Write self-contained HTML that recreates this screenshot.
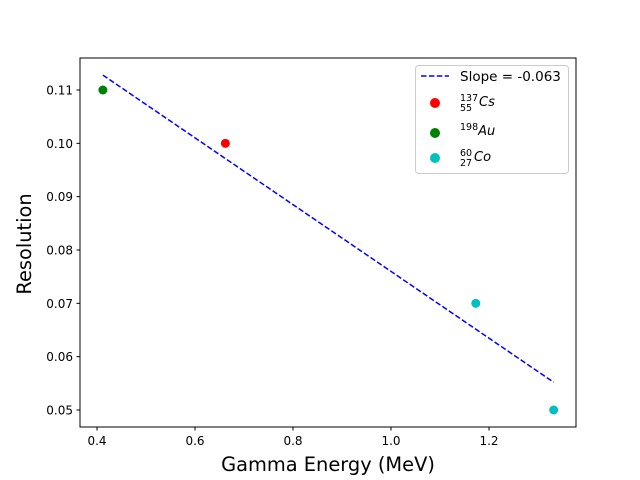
<!DOCTYPE html>
<html><head><meta charset="utf-8"><style>
body{margin:0;background:#fff}
svg{display:block;font-family:"DejaVu Sans","Liberation Sans",sans-serif}
</style></head><body>
<svg id="c" width="640" height="480">
<rect x="80" y="58" width="496" height="369" fill="none" stroke="#000" stroke-width="1"/>
<g id="marks"></g>
<g id="axes"></g>
<text x="328" y="471" font-size="19.4" text-anchor="middle">Gamma Energy (MeV)</text>
<text x="31" y="244" font-size="19.4" text-anchor="middle" transform="rotate(-90 31 244)">Resolution</text>
<g>
<rect x="415.5" y="65.5" width="153" height="108" rx="3" fill="#fff" fill-opacity="0.8" stroke="#ccc"/>
<line x1="421" y1="76" x2="449" y2="76" stroke="#0000ff" stroke-width="1.5" stroke-dasharray="5.5,2.4"/>
<text x="460" y="81" font-size="13.5">Slope = -0.063</text>
<circle cx="435" cy="103" r="5" fill="#ff0000"/>
<text x="460" y="106" font-size="13" font-style="italic"><tspan font-size="9.5" font-style="normal" dy="-5">137</tspan><tspan font-size="9.5" font-style="normal" x="460" dy="10">55</tspan><tspan x="479" dy="-5">Cs</tspan></text>
<circle cx="435" cy="133" r="5" fill="#008000"/>
<text x="460" y="135" font-size="13" font-style="italic"><tspan font-size="9.5" font-style="normal" dy="-5">198</tspan><tspan dy="5">Au</tspan></text>
<circle cx="435" cy="158" r="5" fill="#00bfbf"/>
<text x="460" y="161" font-size="13" font-style="italic"><tspan font-size="9.5" font-style="normal" dy="-5">60</tspan><tspan font-size="9.5" font-style="normal" x="460" dy="10">27</tspan><tspan x="474" dy="-5">Co</tspan></text>
</g>
</svg>
<script>
const xTicks=[0.4,0.6,0.8,1.0,1.2];
const yTicks=[0.05,0.06,0.07,0.08,0.09,0.10,0.11];
const energies=[0.662,0.412,1.173,1.332];
const resolutions=[0.100,0.110,0.070,0.050];
const colors=['#ff0000','#008000','#00bfbf','#00bfbf'];
const pointNames=['point-cs137','point-au198','point-co60-1173','point-co60-1332'];
const fitX=[0.412,1.332];
const fitY=[0.1128,0.0552];
const X=v=>97+(v-0.4)*490;
const Y=v=>410-(v-0.05)*5333.3;
const NS='http://www.w3.org/2000/svg';
const marks=document.getElementById('marks'),axes=document.getElementById('axes');
function mk(tag,attrs,parent){const e=document.createElementNS(NS,tag);for(const k in attrs)e.setAttribute(k,attrs[k]);parent.appendChild(e);return e;}
const ln=mk('line',{x1:X(fitX[0]),y1:Y(fitY[0]),x2:X(fitX[1]),y2:Y(fitY[1]),stroke:'#0000ff','stroke-width':1.5,'stroke-dasharray':'5.5,2.4'},marks);


energies.forEach((e,i)=>{const c=mk('circle',{cx:X(e),cy:Y(resolutions[i]),r:4.5,fill:colors[i]},marks);

});
xTicks.forEach(t=>{mk('line',{x1:X(t),x2:X(t),y1:427,y2:430.5,stroke:'#000'},axes);
const tx=mk('text',{x:X(t),y:445,'font-size':12,'text-anchor':'middle'},axes);tx.textContent=t.toFixed(1);

});
yTicks.forEach(t=>{mk('line',{x1:76.5,x2:80,y1:Y(t),y2:Y(t),stroke:'#000'},axes);
const tx=mk('text',{x:73,y:Y(t)+4.5,'font-size':12,'text-anchor':'end'},axes);tx.textContent=t.toFixed(2);

});
</script>
</body></html>
